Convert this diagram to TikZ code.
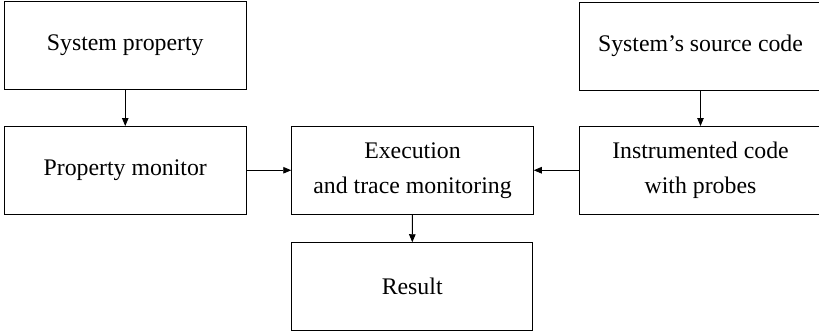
\documentclass[tikz,border=0pt]{standalone}
\usepackage{fontspec}
\setmainfont{Liberation Serif}
\usetikzlibrary{arrows.meta}
\tikzset{
  block/.style={draw=black, line width=1pt, rectangle, inner sep=0pt,
    minimum width=241.5pt, minimum height=87.5pt, align=center,
    font=\fontsize{23.8}{35}\selectfont},
  flow/.style={draw=black, line width=0.9pt, -{Triangle[length=8pt,width=6.5pt]}}
}
\begin{document}
\begin{tikzpicture}[x=1pt,y=-1pt]
  \clip (0,0) rectangle (819,335);
  \fill[white] (0,0) rectangle (819,335);

  % upper row
  \node[block] (prop)   at (125.25,45.3) {System property};
  \node[block] (src)    at (700.5,46.3) {System’s source code};

  % middle row
  \node[block] (mon)    at (125.25,170.25) {Property monitor};
  \node[block] (exec)   at (412.5,170.25) {Execution\\and trace monitoring};
  \node[block] (instr)  at (700.5,170.25) {Instrumented code\\with probes};

  % bottom
  \node[block] (result) at (412.2,286.5) {Result};

  % connectors
  \draw[flow] (prop) -- (mon);
  \draw[flow] (src) -- (instr);
  \draw[flow] (mon) -- (exec);
  \draw[flow] (instr) -- (exec);
  \draw[flow] (exec) -- (result);
\end{tikzpicture}
\end{document}
